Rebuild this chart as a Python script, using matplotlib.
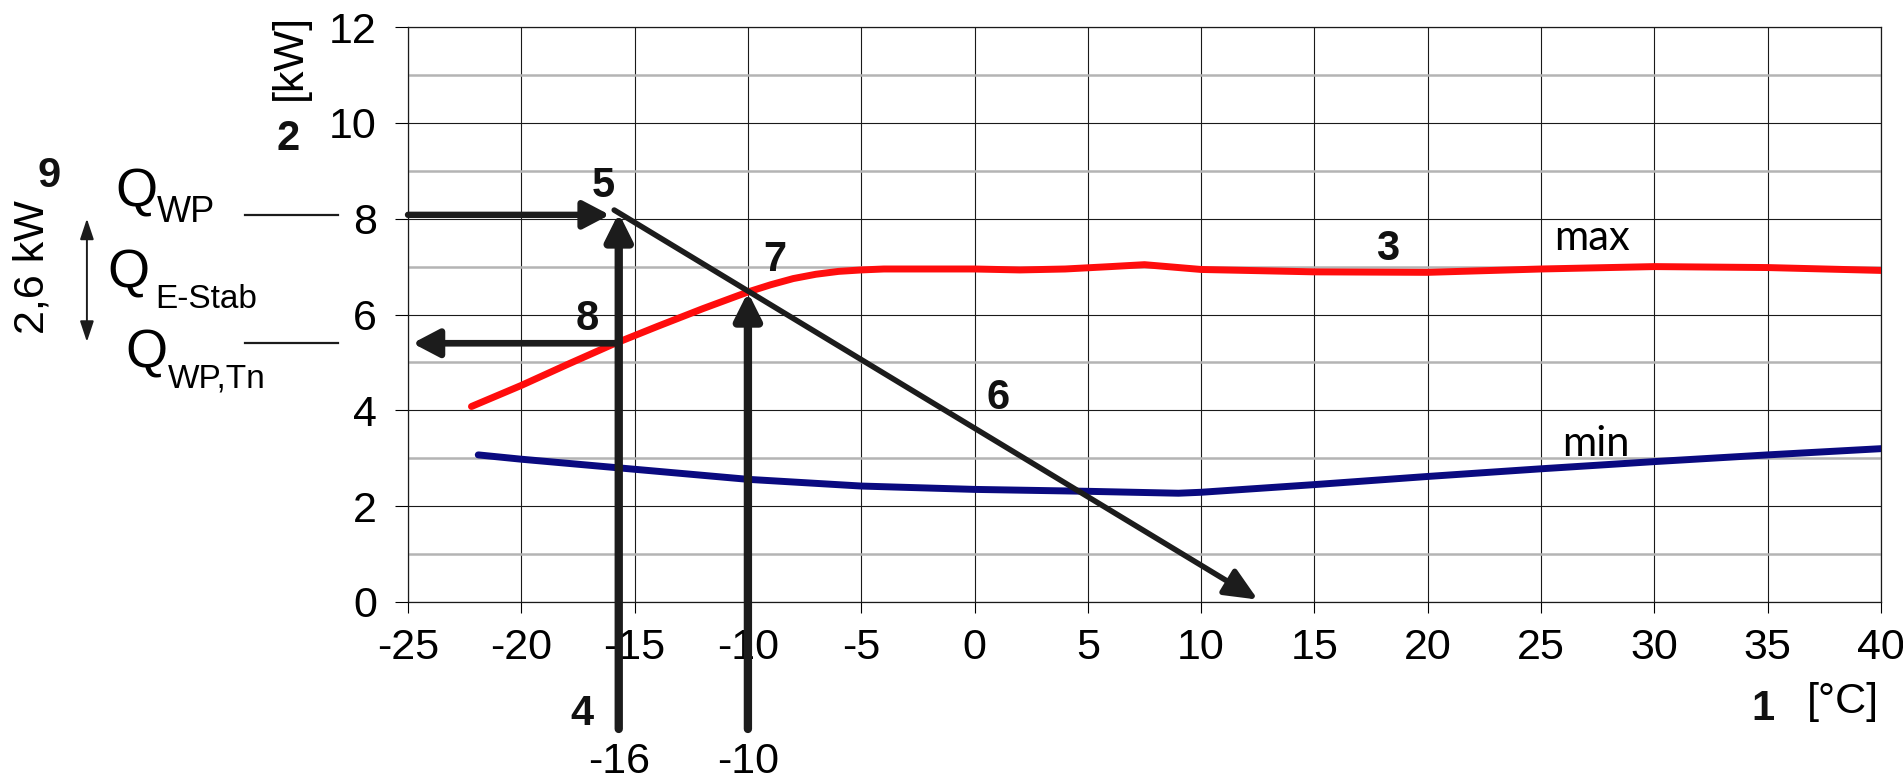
import numpy as np
import matplotlib.pyplot as plt

plt.rcParams['font.family'] = ['Liberation Sans', 'DejaVu Sans']
plt.rcParams['axes.unicode_minus'] = False

# heating power curves of the heat pump
max_t = [-22.2, -20, -18, -16, -14, -12, -10, -9, -8, -7, -6, -5, -4, -2, 0, 2, 4, 6,
         7.5, 9, 10, 15, 20, 25, 30, 35, 40]
max_q = [4.08, 4.52, 4.95, 5.37, 5.75, 6.12, 6.47, 6.62, 6.75, 6.84, 6.9, 6.93, 6.95, 6.95,
         6.95, 6.93, 6.95, 7.0, 7.04, 6.98, 6.94, 6.89, 6.88, 6.95, 7.0, 6.98, 6.92]
min_t = [-21.9, -20, -15, -10, -5, 0, 5, 9, 10, 15, 20, 25, 30, 35, 40]
min_q = [3.07, 2.98, 2.77, 2.56, 2.42, 2.35, 2.31, 2.27, 2.29, 2.45, 2.62, 2.78, 2.93, 3.07, 3.2]

# building heat demand line (6)
heat_t = [-15.9, 12.5]
heat_q = [8.18, 0.05]

# design temperature arrows
design_t = [-15.7, -10.0]
design_lbl = ['-16', '-10']
design_tip = [8.12, 6.47]
arrow_base = -2.65

q_wp = 8.08   # heat demand at -16
q_tn = 5.40   # heat pump power at -16

xticks = list(range(-25, 41, 5))
yticks = list(range(0, 13, 2))

fig = plt.figure(figsize=(19.03, 7.81), dpi=100)
ax = fig.add_axes([0.2144, 0.2292, 0.774, 0.7362])
ax.set_xlim(-25, 40)
ax.set_ylim(0, 12)
ax.set_xticks(xticks)
ax.set_yticks(yticks)
ax.set_yticks(np.arange(1, 12, 2), minor=True)
ax.set_axisbelow(True)
ax.grid(True, which='major', color='#1a1a1a', lw=0.8)
ax.grid(True, which='minor', axis='y', color='#b4b4b4', lw=1.8)
ax.tick_params(axis='y', which='major', length=9.4, width=0.8, pad=13, labelsize=31)
ax.tick_params(axis='x', which='major', length=8, width=0.8, pad=11, labelsize=31)
ax.tick_params(which='minor', length=0)
for s in ax.spines.values():
    s.set_color('#1a1a1a')
    s.set_linewidth(0.9)

ax.plot(max_t, max_q, color='#ff0d0d', lw=5, solid_capstyle='round', zorder=3)
ax.plot(min_t, min_q, color='#0a0a80', lw=5, solid_capstyle='round', zorder=3)

blk = '#1c1c1c'
# heat demand line with arrow
ax.annotate('', xy=(heat_t[1], heat_q[1]), xytext=(heat_t[0], heat_q[0]),
            arrowprops=dict(arrowstyle='-|>,head_length=0.9,head_width=0.4', lw=4,
                            color=blk, shrinkA=0, shrinkB=0, mutation_scale=22),
            annotation_clip=False, zorder=4)
# vertical arrows from design temperatures
for t, tip, lbl in zip(design_t, design_tip, design_lbl):
    ax.annotate('', xy=(t, tip), xytext=(t, arrow_base),
                arrowprops=dict(arrowstyle='-|>,head_length=0.8,head_width=0.4', lw=6,
                                color=blk, shrinkA=0, shrinkB=0, mutation_scale=20),
                annotation_clip=False, zorder=5)
    ax.text(t, -3.57, lbl, ha='center', va='baseline', fontsize=31)
# horizontal arrows
ax.annotate('', xy=(-16.1, q_wp), xytext=(-25, q_wp),
            arrowprops=dict(arrowstyle='-|>,head_length=0.8,head_width=0.42', lw=4.6,
                            color=blk, shrinkA=0, shrinkB=0, mutation_scale=20),
            annotation_clip=False, zorder=5)
ax.annotate('', xy=(-24.8, q_tn), xytext=(design_t[0], q_tn),
            arrowprops=dict(arrowstyle='-|>,head_length=0.8,head_width=0.42', lw=4.8,
                            color=blk, shrinkA=0, shrinkB=0, mutation_scale=20),
            annotation_clip=False, zorder=5)

# numbered labels
bold = dict(fontsize=30, fontweight='bold', ha='center', va='baseline', color='#111111')
ax.text(-16.37, 8.46, '5', **bold)
ax.text(-8.8, 6.9, '7', **bold)
ax.text(-17.07, 5.68, '8', **bold)
ax.text(1.04, 4.03, '6', **bold)
ax.text(18.25, 7.14, '3', **bold)
ax.text(-17.34, -2.57, '4', **bold)
ax.text(34.78, -2.46, '1', **bold)
ax.text(-30.3, 9.44, '2', **bold)
ax.text(-40.84, 8.66, '9', **bold)
ax.text(39.9, -2.32, '[°C]', ha='right', va='baseline', fontsize=31)
ax.text(-30.2, 11.38, '[kW]', ha='center', va='center', rotation=90, fontsize=31)
ax.text(27.25, 7.35, 'max', ha='center', va='baseline', fontsize=30, family='Lato')
ax.text(27.4, 3.05, 'min', ha='center', va='baseline', fontsize=30, family='Lato')

# left side annotation (Q values)
ax.text(-37.93, 8.25, 'Q', ha='left', va='baseline', fontsize=39)
ax.text(-36.08, 7.93, 'WP', ha='left', va='baseline', fontsize=26)
ax.text(-38.28, 6.56, 'Q', ha='left', va='baseline', fontsize=39)
ax.text(-36.17, 6.14, 'E-Stab', ha='left', va='baseline', fontsize=24)
ax.text(-37.49, 4.89, 'Q', ha='left', va='baseline', fontsize=39)
ax.text(-35.59, 4.47, 'WP,Tn', ha='left', va='baseline', fontsize=24)
ax.plot([-32.19, -28.09], [q_wp, q_wp], color=blk, lw=1.6, clip_on=False)
ax.plot([-32.19, -28.09], [q_tn, q_tn], color=blk, lw=1.6, clip_on=False)
ax.annotate('', xy=(-39.17, 8.0), xytext=(-39.17, 5.43),
            arrowprops=dict(arrowstyle='<|-|>,head_length=0.9,head_width=0.3', lw=1.4,
                            color=blk, shrinkA=0, shrinkB=0, mutation_scale=14),
            annotation_clip=False)
ax.text(-41.55, 6.99, '2,6 kW', ha='center', va='center', rotation=90, fontsize=31)

fig.savefig('out.png', dpi=100, facecolor='white')
